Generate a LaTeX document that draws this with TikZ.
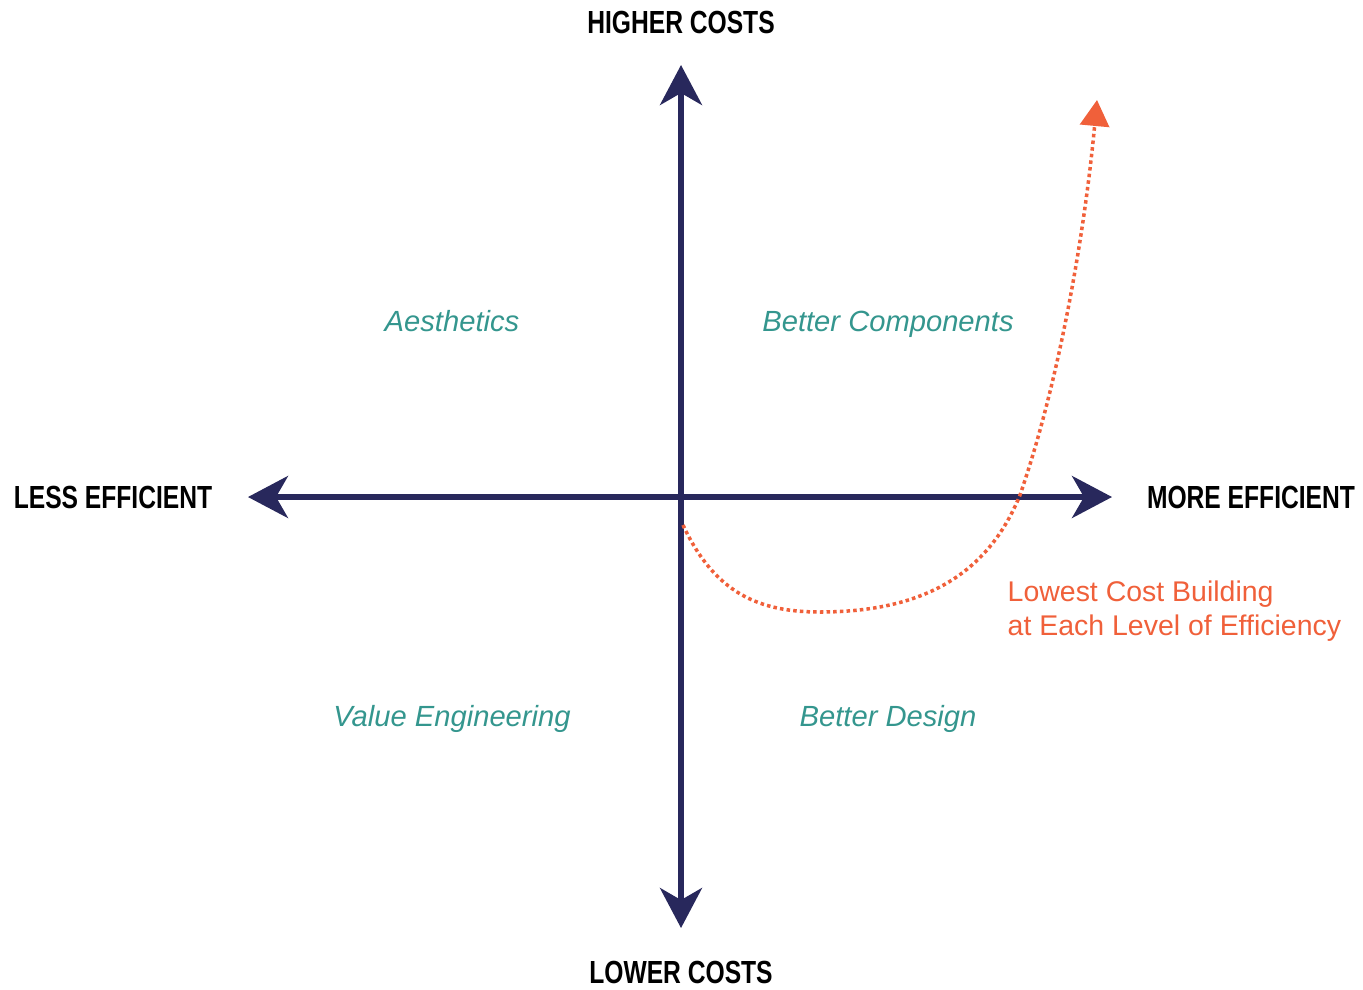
\documentclass[tikz,border=0pt]{standalone}
\usepackage{fontspec}
\setmainfont{Liberation Sans}
\usetikzlibrary{arrows.meta}

\definecolor{axisnavy}{RGB}{40,40,92}
\definecolor{quadteal}{RGB}{52,150,142}
\definecolor{curveorange}{RGB}{240,96,58}

\begin{document}
\begin{tikzpicture}[
  axis/.style={axisnavy, line width=1.5pt,
    {Stealth[length=4mm,width=4.2mm,inset=1.2mm]}-{Stealth[length=4mm,width=4.2mm,inset=1.2mm]}},
  axislabel/.style={font=\fontsize{9.1}{11}\selectfont\bfseries, inner sep=0pt},
  quadlabel/.style={quadteal, font=\fontsize{8.3}{10}\selectfont\itshape, inner sep=0pt,
    text height=1.6ex, text depth=0.45ex},
  curvelabel/.style={curveorange, font=\fontsize{8.1}{9.7}\selectfont, align=left, inner sep=0pt},
  lowcost/.style={curveorange, line width=1pt, dash pattern=on 1pt off 0.9pt,
    -{Triangle[length=2.6mm,width=2.9mm]}}
]

% Narrow the bold caps
\def\cond#1{\scalebox{0.77}[1]{#1}}

% Page frame
\useasboundingbox (0,0) rectangle (13.63,9.89);

% Axis ends
\coordinate (O) at (6.81,4.92);
\coordinate (top) at (6.81,9.24);
\coordinate (bottom) at (6.81,0.61);
\coordinate (left) at (2.48,4.92);
\coordinate (right) at (11.12,4.92);

% Draw the two axes
\draw[axis] (bottom) -- (top);
\draw[axis] (left) -- (right);

% Axis labels
\node[axislabel] (higher) at (6.81,9.67) {\cond{HIGHER COSTS}};
\node[axislabel] (lower) at (6.81,0.17) {\cond{LOWER COSTS}};
\node[axislabel] (less) at (1.13,4.92) {\cond{LESS EFFICIENT}};
\node[axislabel] (more) at (12.51,4.92) {\cond{MORE EFFICIENT}};

% Quadrant labels
\node[quadlabel] (aesth) at (4.52,6.68) {Aesthetics};
\node[quadlabel] (comp) at (8.88,6.68) {Better Components};
\node[quadlabel] (value) at (4.52,2.73) {Value Engineering};
\node[quadlabel] (design) at (8.88,2.73) {Better Design};

% Lowest cost curve
\coordinate (cstart) at (6.83,4.64);
\coordinate (cmin) at (8.2,3.77);
\coordinate (ccross) at (10.2,4.94);
\coordinate (cend) at (10.97,8.89);
\draw[lowcost] (cstart) .. controls (7.15,3.95) and (7.6,3.77) .. (cmin)
  .. controls (9.3,3.77) and (9.9,4.2) .. (ccross)
  .. controls (10.6,6.1) and (10.85,7.6) .. (cend);

\node[curvelabel, anchor=north west] (lowest) at (10.07,4.09)
  {Lowest Cost Building\\at Each Level of Efficiency};

\end{tikzpicture}
\end{document}
